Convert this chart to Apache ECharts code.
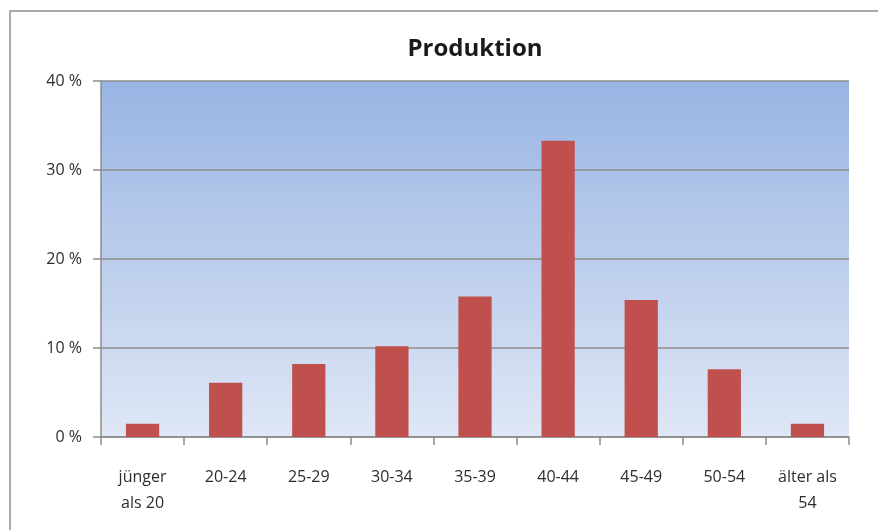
<!DOCTYPE html>
<html>
<head>
<meta charset="utf-8">
<script src="https://cdn.jsdelivr.net/npm/echarts@6/dist/echarts.min.js"></script>
<style>
  html, body { margin: 0; padding: 0; background: #ffffff; }
  #chart { width: 878px; height: 530px; }
</style>
</head>
<body>
<div id="chart"></div>
<script>
// Age groups of the production staff and their share in percent
const categories = ['jünger\nals 20', '20-24', '25-29', '30-34', '35-39', '40-44', '45-49', '50-54', 'älter als\n54'];
const shares = [1.5, 6.1, 8.2, 10.2, 15.8, 33.3, 15.4, 7.6, 1.5];
const yTicks = [0, 10, 20, 30, 40];

const chart = echarts.init(document.getElementById('chart'), null, { renderer: 'canvas' });

const fontFamily = '"Open Sans", "Noto Sans", sans-serif';

chart.setOption({
  animation: false,
  backgroundColor: '#ffffff',
  title: {
    text: 'Produktion',
    left: 470,
    top: 32,
    textAlign: 'center',
    textStyle: { fontFamily: fontFamily, fontSize: 24, fontWeight: 'bold', color: '#1a1a1a' }
  },
  graphic: [{
    type: 'rect',
    shape: { x: 10, y: 11, width: 900, height: 600 },
    style: { fill: 'none', stroke: '#8f8f8f', lineWidth: 1.5 },
    silent: true
  }],
  grid: {
    left: 101, right: 29, top: 81, bottom: 93,
    show: true,
    borderWidth: 0,
    backgroundColor: new echarts.graphic.LinearGradient(0, 0, 0, 1, [
      { offset: 0, color: '#98b4e3' },
      { offset: 1, color: '#dfe7f5' }
    ])
  },
  xAxis: {
    type: 'category',
    data: categories,
    axisLine: { lineStyle: { color: '#8c8c8c', width: 1.5 } },
    axisTick: { show: true, length: 8, alignWithLabel: false, lineStyle: { color: '#8c8c8c', width: 1.5 } },
    axisLabel: {
      interval: 0,
      margin: 27,
      color: '#2e2e2e',
      fontFamily: fontFamily,
      fontSize: 16,
      lineHeight: 26
    }
  },
  yAxis: {
    type: 'value',
    min: yTicks[0],
    max: yTicks[yTicks.length - 1],
    interval: 10,
    axisLine: { show: true, lineStyle: { color: '#8c8c8c', width: 1.5 } },
    axisTick: { show: true, length: 8, lineStyle: { color: '#8c8c8c', width: 1.5 } },
    axisLabel: {
      margin: 19,
      color: '#2e2e2e',
      fontFamily: fontFamily,
      fontSize: 16,
      formatter: v => v + ' %'
    },
    splitLine: { lineStyle: { color: '#8c8c8c', width: 1.5 } }
  },
  series: [{
    type: 'bar',
    data: shares,
    barWidth: '40%',
    itemStyle: { color: '#c0504d' }
  }]
});
</script>
</body>
</html>
